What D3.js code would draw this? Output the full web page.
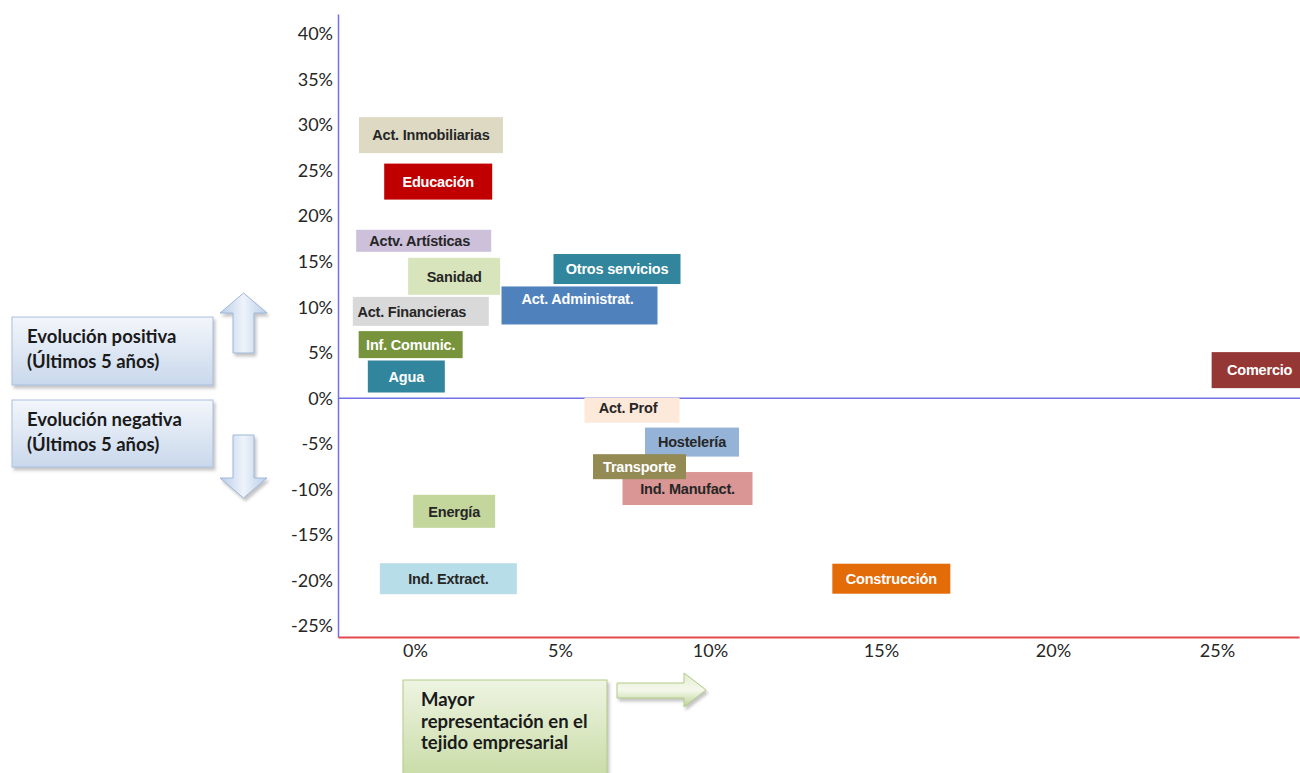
<!DOCTYPE html>
<meta charset="utf-8">

<!-- Load d3.js -->
<script src="https://d3js.org/d3.v7.min.js"></script>

<style>
  body {margin: 0; background: #fff;}
  .tick text {font-family: Lato, "Open Sans", sans-serif; font-size: 18px; fill: #262626;}
  .lbl {font-family: "Liberation Sans", Arial, sans-serif; font-size: 14.5px; font-weight: bold; letter-spacing: -0.2px;}
  .note {font-family: Lato, "Open Sans", sans-serif; font-size: 18.5px; font-weight: bold; fill: #1a1a1a;}
</style>

<div id="my_dataviz"></div>

<script>

// sectors, share of the business fabric (x, %) and 5-year evolution (y, %)
var sectors = ["Act. Inmobiliarias", "Educación", "Actv. Artísticas", "Sanidad", "Otros servicios",
  "Act. Administrat.", "Act. Financieras", "Inf. Comunic.", "Agua", "Act. Prof", "Ind. Manufact.",
  "Hostelería", "Transporte", "Energía", "Ind. Extract.", "Construcción", "Comercio"];
var representacion = [0.55, 0.8, 0.3, 1.35, 6.9, 5.65, 0.2, -0.15, -0.3, 7.4, 9.25, 9.4, 7.65, 1.35, 1.15, 15.3, 26.3];
var evolucion = [28.9, 23.8, 17.3, 13.4, 14.2, 10.2, 9.55, 5.9, 2.4, -1.3, -9.9, -4.8, -7.5, -12.4, -19.8, -19.8, 3.1];

var xTicks = [0, 5, 10, 15, 20, 25];
var yTicks = [40, 35, 30, 25, 20, 15, 10, 5, 0, -5, -10, -15, -20, -25];

// label box look for each sector
var boxStyle = {
  "Act. Inmobiliarias": {fill: "#ddd9c3", ink: "#262626", w: 144, h: 36},
  "Educación":          {fill: "#c00000", ink: "#ffffff", w: 108, h: 36},
  "Actv. Artísticas":   {fill: "#ccc0da", ink: "#262626", w: 135, h: 22, tx: -4},
  "Sanidad":            {fill: "#d7e4bc", ink: "#262626", w: 92,  h: 37},
  "Otros servicios":    {fill: "#31859c", ink: "#ffffff", w: 127, h: 30},
  "Act. Administrat.":  {fill: "#4f81bd", ink: "#ffffff", w: 156, h: 38, tx: -2, ty: -7},
  "Act. Financieras":   {fill: "#d9d9d9", ink: "#262626", w: 136, h: 29, tx: -9},
  "Inf. Comunic.":      {fill: "#77933c", ink: "#ffffff", w: 104, h: 27},
  "Agua":               {fill: "#31859c", ink: "#ffffff", w: 77,  h: 32},
  "Act. Prof":          {fill: "#fde9d9", ink: "#262626", w: 95,  h: 25, tx: -4, ty: -2},
  "Ind. Manufact.":     {fill: "#d99694", ink: "#262626", w: 130, h: 33},
  "Hostelería":         {fill: "#95b3d7", ink: "#262626", w: 94,  h: 29},
  "Transporte":         {fill: "#948a54", ink: "#ffffff", w: 93,  h: 25},
  "Energía":            {fill: "#c3d69b", ink: "#262626", w: 82,  h: 33},
  "Ind. Extract.":      {fill: "#b7dde8", ink: "#262626", w: 137, h: 31},
  "Construcción":       {fill: "#e36c09", ink: "#ffffff", w: 118, h: 30},
  "Comercio":           {fill: "#953735", ink: "#ffffff", w: 96,  h: 36}
};

var W = 1300, H = 773;

var svg = d3.select("#my_dataviz")
  .append("svg")
    .attr("width", W)
    .attr("height", H);

var defs = svg.append("defs");

function grad(id, x2, y2, stops) {
  var g = defs.append("linearGradient").attr("id", id)
    .attr("x1", 0).attr("y1", 0).attr("x2", x2).attr("y2", y2);
  stops.forEach(function(s) {
    g.append("stop").attr("offset", s[0]).attr("stop-color", s[1]);
  });
}
grad("blueBox", 0, 1, [[0, "#f3f6fb"], [1, "#c9d8ec"]]);
grad("blueArrow", 1, 0, [[0, "#b9cde8"], [0.5, "#eef3fa"], [1, "#b9cde8"]]);
grad("greenBox", 0, 1, [[0, "#eef4e2"], [1, "#c8dba5"]]);
grad("greenArrow", 0, 1, [[0, "#e3edd0"], [0.5, "#f4f8ec"], [1, "#bcd294"]]);

var shadow = defs.append("filter").attr("id", "shadow")
  .attr("x", "-10%").attr("y", "-10%").attr("width", "130%").attr("height", "140%");
shadow.append("feDropShadow")
  .attr("dx", 2).attr("dy", 3).attr("stdDeviation", 1.5)
  .attr("flood-color", "#7f7f7f").attr("flood-opacity", 0.45);

// scales (the horizontal axis of the original is slightly uneven)
var x = d3.scaleLinear()
  .domain([-2.66, 0, 5, 10, 15, 20, 25, 27.5])
  .range([338, 415, 560, 710, 881, 1053, 1217, 1299]);
var y = d3.scaleLinear()
  .domain([-26.2, 42.2])
  .range([637, 14]);

// Y axis
var yAxis = svg.append("g")
  .attr("transform", "translate(" + x.range()[0] + ",0)")
  .call(d3.axisLeft(y).tickValues(yTicks).tickSize(0).tickPadding(5)
    .tickFormat(function(d) { return d + "%"; }));
yAxis.select(".domain").attr("stroke", "#7272e6").attr("stroke-width", 1.5);

// X axis
var xAxis = svg.append("g")
  .attr("transform", "translate(0," + y.range()[0] + ")")
  .call(d3.axisBottom(x).tickValues(xTicks).tickSize(0).tickPadding(7)
    .tickFormat(function(d) { return d + "%"; }));
xAxis.select(".domain").attr("stroke", "#e5484d").attr("stroke-width", 2);

// zero line
svg.append("line")
  .attr("x1", x.range()[0]).attr("x2", W)
  .attr("y1", y(0)).attr("y2", y(0))
  .attr("stroke", "#7272e6").attr("stroke-width", 1.5);

// label boxes
var data = sectors.map(function(s, i) {
  return {name: s, x: representacion[i], y: evolucion[i], st: boxStyle[s]};
});

var box = svg.selectAll("g.box")
  .data(data)
  .enter()
  .append("g")
    .attr("class", "box")
    .attr("transform", function(d) { return "translate(" + x(d.x) + "," + y(d.y) + ")"; });

box.append("rect")
  .attr("x", function(d) { return -d.st.w / 2; })
  .attr("y", function(d) { return -d.st.h / 2; })
  .attr("width", function(d) { return d.st.w; })
  .attr("height", function(d) { return d.st.h; })
  .attr("fill", function(d) { return d.st.fill; });

box.append("text")
  .attr("class", "lbl")
  .attr("x", function(d) { return d.st.tx || 0; })
  .attr("y", function(d) { return d.st.ty || 0; })
  .attr("dy", "0.36em")
  .attr("text-anchor", "middle")
  .attr("fill", function(d) { return d.st.ink; })
  .text(function(d) { return d.name; });

// side notes
function note(x0, y0, w, h, fill, stroke, lines, lineH, pad) {
  svg.append("rect")
    .attr("x", x0).attr("y", y0).attr("width", w).attr("height", h)
    .attr("fill", fill).attr("stroke", stroke).attr("stroke-width", 1)
    .attr("filter", "url(#shadow)");
  var t = svg.append("text").attr("class", "note");
  lines.forEach(function(l, i) {
    t.append("tspan").attr("x", x0 + pad).attr("y", y0 + 26 + i * lineH).text(l);
  });
}
note(12, 317, 201, 68, "url(#blueBox)", "#a9c0df", ["Evolución positiva", "(Últimos 5 años)"], 25, 15);
note(12, 400, 201, 67, "url(#blueBox)", "#a9c0df", ["Evolución negativa", "(Últimos 5 años)"], 25, 15);
note(403, 680, 204, 100, "url(#greenBox)", "#b3cb88", ["Mayor", "representación en el", "tejido empresarial"], 21.5, 18);

// arrows
var up = "M243.5,293 L267,313 L254,313 L254,353 L233,353 L233,313 L220,313 Z";
var down = "M233,435 L254,435 L254,478 L267,478 L243.5,498 L220,478 L233,478 Z";
var right = "M617,683 L684,683 L684,673 L706,690 L684,707 L684,698 L617,698 Z";
svg.append("path").attr("d", up).attr("fill", "url(#blueArrow)").attr("stroke", "#9fb8da").attr("filter", "url(#shadow)");
svg.append("path").attr("d", down).attr("fill", "url(#blueArrow)").attr("stroke", "#9fb8da").attr("filter", "url(#shadow)");
svg.append("path").attr("d", right).attr("fill", "url(#greenArrow)").attr("stroke", "#b3cb88").attr("filter", "url(#shadow)");

</script>
